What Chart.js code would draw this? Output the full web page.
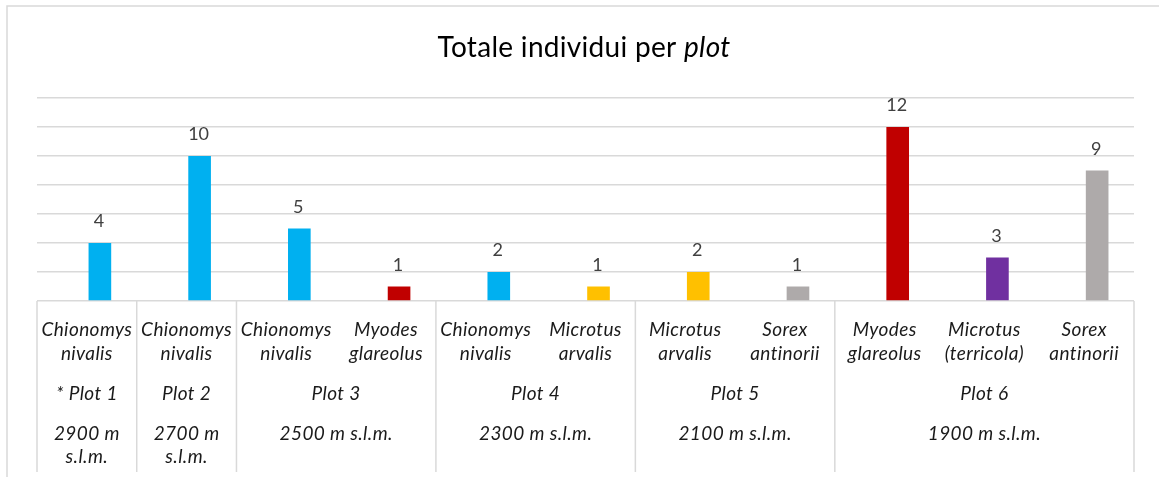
<!DOCTYPE html>
<html>
<head>
<meta charset="utf-8">
<script src="https://cdn.jsdelivr.net/npm/chart.js@4.4.0/dist/chart.umd.min.js"></script>
<style>
  body { margin: 0; background: #fff; }
  #wrap { position: relative; width: 1159px; height: 477px; }
</style>
</head>
<body>
<div id="wrap"><canvas id="myChart"></canvas></div>
<script>
// species (one per bar), split in two lines like the original axis
const species = [
  ['Chionomys', 'nivalis'],
  ['Chionomys', 'nivalis'],
  ['Chionomys', 'nivalis'],
  ['Myodes', 'glareolus'],
  ['Chionomys', 'nivalis'],
  ['Microtus', 'arvalis'],
  ['Microtus', 'arvalis'],
  ['Sorex', 'antinorii'],
  ['Myodes', 'glareolus'],
  ['Microtus', '(terricola)'],
  ['Sorex', 'antinorii']
];
const plotOf = [0, 1, 2, 2, 3, 3, 4, 4, 5, 5, 5];
const plotLabels = ['* Plot 1', 'Plot 2', 'Plot 3', 'Plot 4', 'Plot 5', 'Plot 6'];
const altitudes = [
  ['2900 m', 's.l.m.'],
  ['2700 m', 's.l.m.'],
  ['2500 m s.l.m.'],
  ['2300 m s.l.m.'],
  ['2100 m s.l.m.'],
  ['1900 m s.l.m.']
];
const individui = [4, 10, 5, 1, 2, 1, 2, 1, 12, 3, 9];
// the original sheet has an empty first series, which pushes the bars right
const vuota = [null, null, null, null, null, null, null, null, null, null, null];
const barColors = ['#00B0F0', '#00B0F0', '#00B0F0', '#C00000', '#00B0F0', '#FFC000',
  '#FFC000', '#AEAAAA', '#C00000', '#7030A0', '#AEAAAA'];

const FONT = 'Lato';
const GRID = '#D9D9D9';

const extras = {
  id: 'extras',
  afterDraw(chart) {
    const ctx = chart.ctx;
    const x = chart.scales.x;
    const area = chart.chartArea;
    ctx.save();

    // chart frame
    ctx.strokeStyle = GRID;
    ctx.lineWidth = 1.5;
    ctx.beginPath();
    ctx.moveTo(7, 480);
    ctx.lineTo(7, 6);
    ctx.lineTo(1170, 6);
    ctx.stroke();

    // title, "plot" in italic
    const t1 = 'Totale individui per ';
    const t2 = 'plot';
    ctx.fillStyle = '#000';
    ctx.textBaseline = 'alphabetic';
    ctx.letterSpacing = '0.3px';
    ctx.font = '28px ' + FONT;
    const w1 = ctx.measureText(t1).width;
    ctx.font = 'italic 28px ' + FONT;
    const w2 = ctx.measureText(t2).width;
    let tx = 584 - (w1 + w2) / 2;
    ctx.textAlign = 'left';
    ctx.font = '28px ' + FONT;
    ctx.fillText(t1, tx, 57);
    ctx.font = 'italic 28px ' + FONT;
    ctx.fillText(t2, tx + w1, 57);
    ctx.letterSpacing = '0px';

    // data labels
    const meta = chart.getDatasetMeta(1);
    ctx.font = '18px ' + FONT;
    ctx.fillStyle = '#404040';
    ctx.textAlign = 'center';
    meta.data.forEach((bar, i) => {
      ctx.fillText(String(individui[i]), bar.x - 1, bar.y - 16);
    });

    // group separators
    const half = (x.getPixelForValue(1) - x.getPixelForValue(0)) / 2;
    ctx.strokeStyle = GRID;
    ctx.lineWidth = 1.5;
    const bounds = [];
    plotOf.forEach((p, i) => {
      if (i === 0 || plotOf[i - 1] !== p) bounds.push(x.getPixelForValue(i) - half);
    });
    bounds.push(x.getPixelForValue(plotOf.length - 1) + half);
    bounds.forEach(b => {
      ctx.beginPath();
      ctx.moveTo(b, area.bottom);
      ctx.lineTo(b, 472);
      ctx.stroke();
    });

    // category labels
    ctx.fillStyle = '#1a1a1a';
    ctx.letterSpacing = '0.4px';
    ctx.font = 'italic 19px ' + FONT;
    species.forEach((lines, i) => {
      const cx = x.getPixelForValue(i);
      lines.forEach((s, k) => ctx.fillText(s, cx, 336 + k * 24));
    });
    plotLabels.forEach((lab, g) => {
      const idx = plotOf.map((p, i) => p === g ? i : -1).filter(i => i >= 0);
      const cx = (x.getPixelForValue(idx[0]) + x.getPixelForValue(idx[idx.length - 1])) / 2;
      ctx.fillText(lab, cx, 400);
      altitudes[g].forEach((s, k) => ctx.fillText(s, cx, 440 + k * 23));
    });
    ctx.restore();
  }
};

new Chart(document.getElementById('myChart'), {
  type: 'bar',
  data: {
    labels: species.map(s => s.join(' ')),
    datasets: [{
      data: vuota,
      backgroundColor: '#fff'
    }, {
      data: individui,
      backgroundColor: barColors
    }]
  },
  options: {
    responsive: true,
    maintainAspectRatio: false,
    animation: false,
    datasets: { bar: { barPercentage: 0.87, categoryPercentage: 0.522 } },
    layout: { padding: { left: 37, right: 25, top: 98, bottom: 176 } },
    plugins: { legend: { display: false }, tooltip: { enabled: false } },
    scales: {
      x: { display: false },
      y: {
        min: 0,
        max: 14,
        ticks: { display: false, stepSize: 2 },
        border: { display: false },
        grid: { color: GRID, lineWidth: 1.5, drawTicks: false }
      }
    }
  },
  plugins: [extras]
});
</script>
</body>
</html>
